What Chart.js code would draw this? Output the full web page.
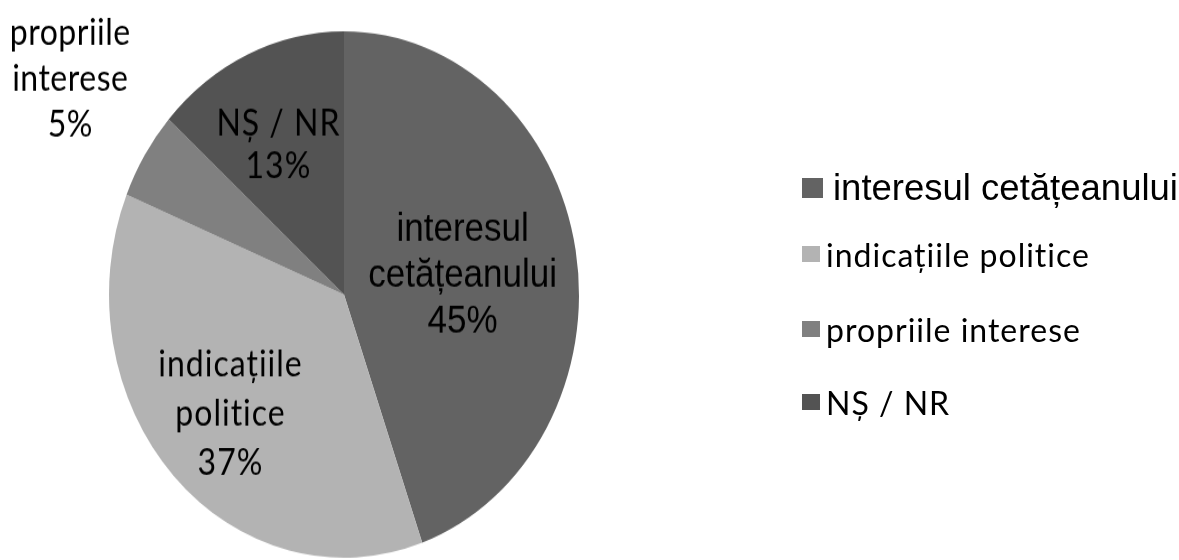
<!DOCTYPE html>
<html>
<head>
<meta charset="utf-8">
<script src="https://cdn.jsdelivr.net/npm/chart.js@4.4.0/dist/chart.umd.min.js"></script>
<style>
  html, body { margin: 0; padding: 0; background: #fff; }
  #wrap { position: relative; width: 1179px; height: 560px; overflow: hidden; }
  /* the original picture is stretched vertically, so the pie is an ellipse */
  #stretch { position: absolute; left: 0; top: 0; width: 1179px; height: 500px;
             transform: scaleY(1.12); transform-origin: 0 0; }
  .row { position: absolute; left: 802px; display: flex; align-items: center;
         white-space: nowrap; color: #000; height: 40px; }
  .box { display: inline-block; }
</style>
</head>
<body>
<div id="wrap">
  <div id="stretch"><canvas id="myChart" width="1179" height="500"></canvas></div>
  <div id="legend"></div>
</div>
<script>
// data
const categories = ['interesul cetățeanului', 'indicațiile politice', 'propriile interese', 'NȘ / NR'];
const labelLines = [['interesul', 'cetățeanului'], ['indicațiile', 'politice'], ['propriile', 'interese'], ['NȘ / NR']];
const values = [44.6, 36.6, 5.4, 13.4];
const colors = ['#636363', '#b3b3b3', '#808080', '#535353'];

// label placement inside / outside the slices (fraction of radius, angle nudge in degrees)
const labelRadius = [0.51, 0.665, 1.424, 0.634];
const labelShift = [1.6, 0.4, 3, -2.2];
const labelFonts = [
    { font: '35px "Liberation Sans"', lh: 41, spacing: 0 },
    { font: '32px Lato', lh: 44, spacing: 1 },
    { font: '32px Lato', lh: 41, spacing: 0.5 },
    { font: '32px Lato', lh: 38, spacing: 1 }
];

const sliceLabels = {
    id: 'sliceLabels',
    afterDatasetsDraw(chart) {
        const ctx = chart.ctx;
        const meta = chart.getDatasetMeta(0);
        meta.data.forEach((arc, i) => {
            const p = arc.getProps(['x', 'y', 'startAngle', 'endAngle', 'outerRadius'], true);
            const mid = (p.startAngle + p.endAngle) / 2 + labelShift[i] * Math.PI / 180;
            const r = p.outerRadius * labelRadius[i];
            const cx = p.x + Math.cos(mid) * r;
            const cy = p.y + Math.sin(mid) * r;
            const lines = labelLines[i].concat(Math.round(values[i]) + '%');
            const f = labelFonts[i];
            ctx.save();
            ctx.font = f.font;
            ctx.letterSpacing = f.spacing + 'px';
            ctx.fillStyle = '#000';
            ctx.textAlign = 'center';
            ctx.textBaseline = 'middle';
            lines.forEach((t, k) => {
                ctx.fillText(t, cx + f.spacing / 2, cy + (k - (lines.length - 1) / 2) * f.lh);
            });
            ctx.restore();
        });
    }
};

var ctx = document.getElementById('myChart');
var chart = new Chart(ctx, {
    type: 'pie',
    data: {
        labels: categories,
        datasets: [{
            data: values,
            backgroundColor: colors,
            borderWidth: 0,
            hoverOffset: 0
        }]
    },
    options: {
        responsive: false,
        animation: false,
        layout: { padding: { top: 28, bottom: 2, left: 109, right: 600 } },
        plugins: {
            legend: { display: false },
            tooltip: { enabled: false }
        }
    },
    plugins: [sliceLabels]
});

// legend (first entry uses a different, larger font like the original)
const legendY = [188, 254, 329, 402];
const legendStyle = [
    { font: '36.5px "Liberation Sans"', spacing: 0, box: [21, 20], gap: 10 },
    { font: '32px Lato', spacing: 1, box: [18, 16], gap: 6 },
    { font: '32px Lato', spacing: 1, box: [18, 16], gap: 6 },
    { font: '32px Lato', spacing: 1, box: [18, 16], gap: 6 }
];
const legend = document.getElementById('legend');
categories.forEach((name, i) => {
    const s = legendStyle[i];
    const row = document.createElement('div');
    row.className = 'row';
    row.style.top = (legendY[i] - 20) + 'px';
    row.innerHTML = `<span class='box' style='width:${s.box[0]}px;height:${s.box[1]}px;background:${colors[i]};margin-right:${s.gap}px'></span>` +
        `<span style='font:${s.font};letter-spacing:${s.spacing}px'>${name}</span>`;
    legend.appendChild(row);
});
</script>
</body>
</html>
